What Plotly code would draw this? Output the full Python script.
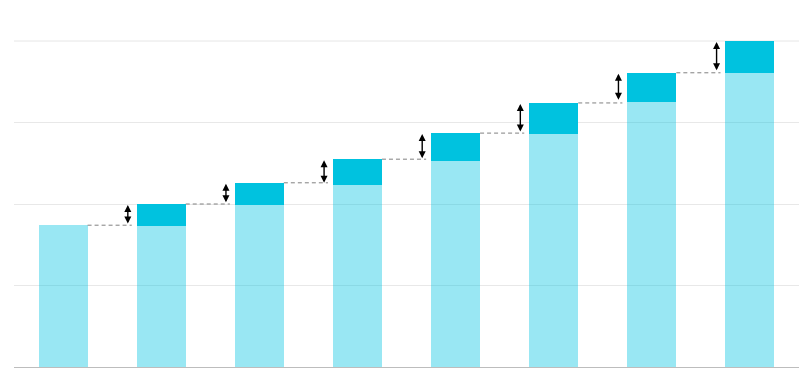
import plotly.graph_objects as go

positions = [0, 1, 2, 3, 4, 5, 6, 7]
totals = [174, 200, 226, 255, 287, 324, 361, 400]
bases = [174, 173, 199, 223, 253, 286, 325, 361]

increments = [0] + [t - b for t, b in zip(totals[1:], bases[1:])]

DARK = "#00C2DF"
LIGHT = "rgba(0,194,224,0.4)"
BAR_W = 0.5

fig = go.Figure()
fig.add_trace(go.Bar(x=positions, y=bases, width=BAR_W, marker=dict(color=LIGHT, line=dict(width=0)),
                     hoverinfo="skip"))
fig.add_trace(go.Bar(x=positions, y=increments, width=BAR_W, marker=dict(color=DARK, line=dict(width=0)),
                     hoverinfo="skip"))

for i in range(1, len(positions)):
    prev = totals[i - 1]
    ax_x = positions[i] - BAR_W / 2 - 0.09
    # dashed connector from previous bar top to current bar
    fig.add_shape(type="line", xref="x", yref="y",
                  x0=positions[i - 1] + BAR_W / 2, x1=positions[i] - BAR_W / 2 - 0.05,
                  y0=prev, y1=prev,
                  line=dict(color="#808080", width=1, dash="4px,3px"))
    # double-headed arrow showing the increase
    fig.add_annotation(x=ax_x, y=totals[i], ax=ax_x, ay=bases[i],
                       xref="x", yref="y", axref="x", ayref="y",
                       text="", showarrow=True, arrowside="end+start",
                       arrowhead=2, startarrowhead=2, arrowsize=1, startarrowsize=1,
                       arrowwidth=1.4, arrowcolor="#000000",
                       standoff=1, startstandoff=1)

# top gridline at the range maximum
fig.add_shape(type="line", xref="paper", yref="paper", x0=0, x1=1, y0=1, y1=1,
              line=dict(color="#e6e6e6", width=1), layer="below")

fig.update_layout(
    width=811, height=388,
    margin=dict(l=14, r=12, t=41, b=21),
    barmode="stack",
    showlegend=False,
    plot_bgcolor="white",
    paper_bgcolor="white",
    bargap=0.5,
)
fig.update_xaxes(range=[-0.5, 7.5], showticklabels=False, showgrid=False, zeroline=False,
                 showline=True, linecolor="#bdbdbd", linewidth=1, ticks="")
fig.update_yaxes(range=[0, 400], dtick=100, showticklabels=False, showgrid=True,
                 gridcolor="#e8e8e8", gridwidth=1, zeroline=False, ticks="")

fig.write_html("out.html")
